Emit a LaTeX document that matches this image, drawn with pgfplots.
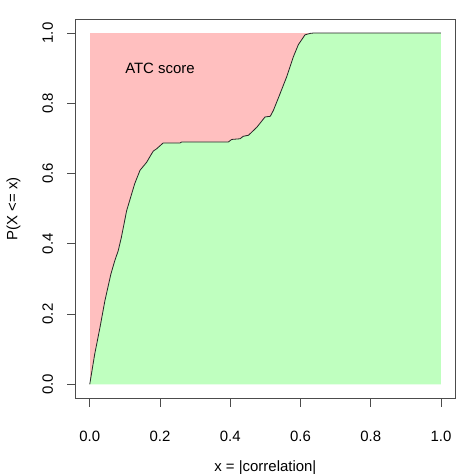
\documentclass[border=0pt]{standalone}
\usepackage{fontspec}
\setmainfont{Liberation Sans}
\usepackage{pgfplots}
\usepackage{pgfplotstable}
\pgfplotsset{compat=1.18}

\definecolor{atcpink}{HTML}{FFBFBF}
\definecolor{atcgreen}{HTML}{BFFFBF}

% empirical CDF of |correlation|
\pgfplotstableread{
x y
0.000 0.000
0.014 0.085
0.029 0.161
0.043 0.237
0.060 0.313
0.071 0.351
0.081 0.380
0.090 0.418
0.105 0.494
0.128 0.571
0.143 0.609
0.162 0.632
0.176 0.656
0.181 0.664
0.190 0.670
0.209 0.687
0.257 0.687
0.262 0.690
0.395 0.690
0.404 0.697
0.428 0.699
0.437 0.706
0.452 0.709
0.476 0.732
0.499 0.761
0.514 0.763
0.523 0.780
0.537 0.815
0.561 0.876
0.580 0.933
0.594 0.967
0.613 0.995
0.628 0.999
0.637 1.000
1.000 1.000
}\cdfdata

\begin{document}
\fontsize{15}{18}\selectfont
\begin{tikzpicture}
\begin{axis}[
    scale only axis,
    width=379.3bp, height=379.3bp,
    xmin=-0.04, xmax=1.04,
    ymin=-0.04, ymax=1.04,
    xtick=\empty, ytick=\empty,
    axis line style={black!70, line width=0.8bp},
    xlabel={x = |correlation|},
    ylabel={P(X <= x)},
    xlabel style={at={(axis description cs:0.5,-0.184)}, anchor=center},
    ylabel style={at={(axis description cs:-0.164,0.5)}, anchor=center},
    clip=false,
]
% area above the curve
\addplot[fill=atcpink, draw=none] coordinates {(0,0) (0,1) (1,1) (1,0)} --cycle;
% area below the curve
\addplot[fill=atcgreen, draw=none] table[x=x, y=y] {\cdfdata} \closedcycle;
% the curve itself
\addplot[black!85, line width=0.8bp] table[x=x, y=y] {\cdfdata};
\node at (axis cs:0.2,0.899) {ATC score};
% R-style outward ticks and labels
\pgfplotsinvokeforeach{0.0,0.2,0.4,0.6,0.8,1.0}{
  \draw[black!70, line width=0.8bp] (axis cs:#1,-0.04) -- ([yshift=-9bp]axis cs:#1,-0.04);
  \node[anchor=center] at ([yshift=-38.4bp]axis cs:#1,-0.04) {#1};
  \draw[black!70, line width=0.8bp] (axis cs:-0.04,#1) -- ([xshift=-9bp]axis cs:-0.04,#1);
  \node[anchor=center, rotate=90] at ([xshift=-28bp]axis cs:-0.04,#1) {#1};
}
\end{axis}
\pgfresetboundingbox
\useasboundingbox (-75.7bp,-75.7bp) rectangle (398.3bp,398.3bp);
\end{tikzpicture}
\end{document}
